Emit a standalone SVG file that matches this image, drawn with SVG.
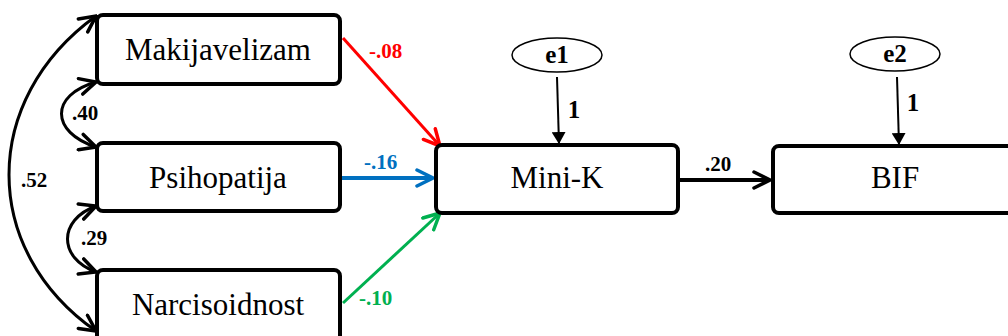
<svg xmlns="http://www.w3.org/2000/svg" width="1008" height="336" viewBox="0 0 1008 336">
<style>
.box{fill:#fff;stroke:#000;stroke-width:4}
.lbl{font-family:"Liberation Serif","Times New Roman",serif;font-size:31px;text-anchor:middle}
.coef{font-family:"Liberation Serif","Times New Roman",serif;font-size:21px;font-weight:bold}
.err{font-family:"Liberation Serif","Times New Roman",serif;font-size:25px;font-weight:bold;text-anchor:middle}
.cov{fill:none;stroke:#000;stroke-width:3}
</style>
<defs>
<marker id="openL" viewBox="0 0 20 20" refX="18" refY="10" markerWidth="20" markerHeight="20" markerUnits="userSpaceOnUse" orient="auto-start-reverse">
<path d="M2,2 L18,10 L2,18" fill="none" stroke="context-stroke" stroke-width="3.5" stroke-linecap="round"/>
</marker>
<marker id="tri" viewBox="0 0 12 14" refX="12" refY="7" markerWidth="12" markerHeight="14" markerUnits="userSpaceOnUse" orient="auto">
<path d="M0,0 L12,7 L0,14 Z" fill="#000"/>
</marker>
</defs>
<g id="connectors">
<path class="cov" d="M96,16 C-20,100 -20,250 96,331" marker-start="url(#openL)" marker-end="url(#openL)"/>
<path class="cov" d="M96,82 C50,95 50,132 96,147" marker-start="url(#openL)" marker-end="url(#openL)"/>
<path class="cov" d="M96,206 C58,220 58,258 96,272" marker-start="url(#openL)" marker-end="url(#openL)"/>
<line x1="343" y1="38" x2="440" y2="146" stroke="#ff0000" stroke-width="3" marker-end="url(#openL)"/>
<line x1="339" y1="178" x2="433" y2="178" stroke="#0070c0" stroke-width="4" marker-end="url(#openL)"/>
<line x1="343" y1="303" x2="440" y2="213" stroke="#00b050" stroke-width="3" marker-end="url(#openL)"/>
<line x1="680" y1="180" x2="770" y2="180" stroke="#000" stroke-width="4" marker-end="url(#openL)"/>
<line x1="557" y1="77" x2="559" y2="144" stroke="#000" stroke-width="2" marker-end="url(#tri)"/>
<line x1="897" y1="77" x2="899" y2="145" stroke="#000" stroke-width="2" marker-end="url(#tri)"/>
<text class="coef" x="72" y="120">.40</text>
<text class="coef" x="21" y="187">.52</text>
<text class="coef" x="81" y="245">.29</text>
<text class="coef" x="369" y="58" fill="#ff0000">-.08</text>
<text class="coef" x="364" y="169" fill="#0070c0">-.16</text>
<text class="coef" x="359" y="305" fill="#00b050">-.10</text>
<text class="coef" x="705" y="171">.20</text>
<text class="err" x="574" y="118">1</text>
<text class="err" x="913" y="111">1</text>
</g>
<g id="makijavelizam">
<rect class="box" x="97" y="15" width="243" height="69" rx="6"/>
<text class="lbl" x="218" y="60">Makijavelizam</text>
</g>
<g id="psihopatija">
<rect class="box" x="97" y="143" width="243" height="68" rx="6"/>
<text class="lbl" x="218" y="188">Psihopatija</text>
</g>
<g id="narcisoidnost">
<rect class="box" x="97" y="270" width="243" height="80" rx="6"/>
<text class="lbl" x="218" y="315">Narcisoidnost</text>
</g>
<g id="minik">
<rect class="box" x="436" y="145" width="242" height="68" rx="6"/>
<text class="lbl" x="557" y="188">Mini-K</text>
</g>
<g id="bif">
<rect class="box" x="773" y="146" width="250" height="67" rx="6"/>
<text class="lbl" x="895" y="188">BIF</text>
</g>
<g id="e1">
<ellipse cx="557" cy="55" rx="45" ry="17" fill="#fff" stroke="#000" stroke-width="1.5"/>
<text class="err" x="557" y="63">e1</text>
</g>
<g id="e2">
<ellipse cx="895" cy="54" rx="45" ry="17" fill="#fff" stroke="#000" stroke-width="1.5"/>
<text class="err" x="895" y="62">e2</text>
</g>
</svg>
